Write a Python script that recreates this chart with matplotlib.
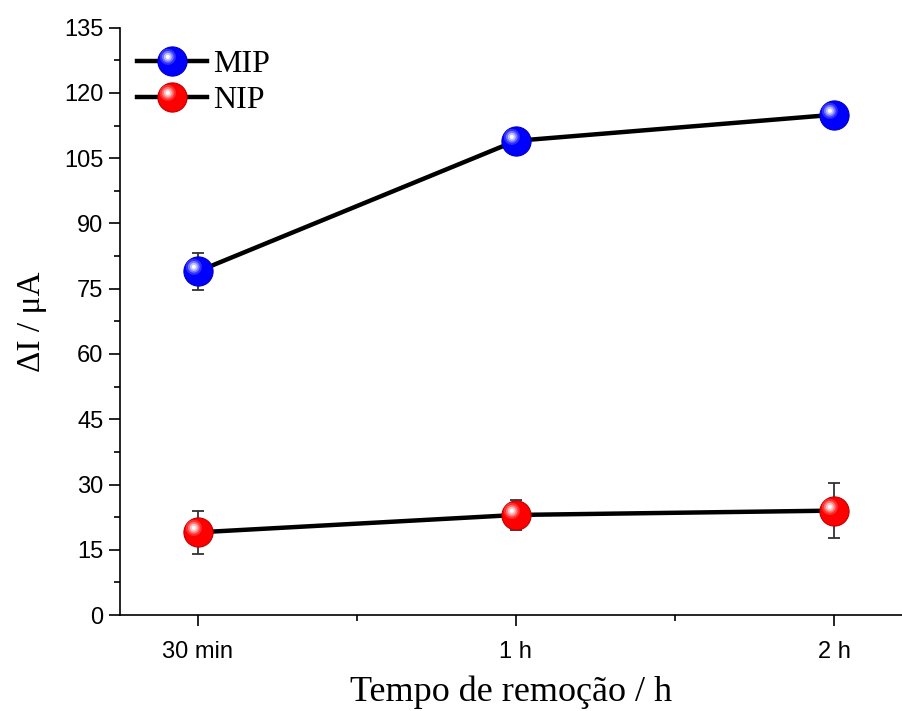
import numpy as np
import matplotlib
matplotlib.use('Agg')
import matplotlib.pyplot as plt
from matplotlib.path import Path
from matplotlib.ticker import MultipleLocator, AutoMinorLocator
from matplotlib.legend_handler import HandlerTuple

# dados
tempos = ['30 min', '1 h', '2 h']
mip = [79, 109, 115]
mip_err = [4.3, 2.5, 1.0]
nip = [19, 23, 24]
nip_err = [5.0, 3.5, 6.4]


def brilho(r, cx=-0.32, cy=0.32):
    # circulo deslocado para o brilho da esfera (pontos MOVETO fixam a escala)
    t = np.linspace(0, 2 * np.pi, 40)
    verts = [(-1, -1), (1, 1)] + [(cx + r * np.cos(a), cy + r * np.sin(a)) for a in t]
    codes = [Path.MOVETO, Path.MOVETO, Path.MOVETO] + [Path.LINETO] * (len(t) - 2) + [Path.CLOSEPOLY]
    return Path(verts, codes)


def esfera(ax, x, y, yerr, cor, tons):
    ms = 21
    ax.errorbar(x, y, yerr=yerr, fmt='none', ecolor='#333333', elinewidth=1.3,
                capsize=4.5, capthick=1.3, zorder=2)
    base, = ax.plot(x, y, color='black', lw=3.2, marker='o', ms=ms,
                    mfc=cor, mec=tons[0], mew=0.8, zorder=3)
    camadas = [base]
    for r, c in zip([0.55, 0.4, 0.27, 0.14], tons[1:]):
        h, = ax.plot(x, y, ls='none', marker=brilho(r), ms=ms, mfc=c, mec='none', zorder=4)
        camadas.append(h)
    return tuple(camadas)


plt.rcParams['font.family'] = ['Liberation Sans', 'DejaVu Sans']
fig = plt.figure(figsize=(9.02, 7.11), dpi=100)
ax = fig.add_axes([0.133, 0.135, 0.867, 0.826])

x = np.arange(len(tempos))
h_mip = esfera(ax, x, mip, mip_err, '#0000ff',
               ['#0000c0', '#3030ff', '#7878ff', '#c0c0ff', '#ffffff'])
h_nip = esfera(ax, x, nip, nip_err, '#ff0000',
               ['#c00000', '#ff3030', '#ff7878', '#ffc0c0', '#ffffff'])

ax.set_xlim(-0.245, 2.214)
ax.set_ylim(0, 135)
ax.set_xticks(x)
ax.set_xticklabels(tempos)
ax.xaxis.set_minor_locator(MultipleLocator(0.5))
ax.yaxis.set_major_locator(MultipleLocator(15))
ax.yaxis.set_minor_locator(AutoMinorLocator(2))
ax.tick_params(which='major', direction='out', length=8, width=1.2, labelsize=17)
ax.tick_params(axis='x', which='major', pad=11)
ax.tick_params(axis='y', which='major', pad=4)
ax.tick_params(which='minor', direction='out', length=4, width=1.2)
ax.spines['top'].set_visible(False)
ax.spines['right'].set_visible(False)
ax.spines['left'].set_linewidth(1.2)
ax.spines['bottom'].set_linewidth(1.2)

serif = ['Liberation Serif', 'DejaVu Serif']
ax.set_xlabel('Tempo de remoção / h', fontdict={'family': serif, 'size': 26}, labelpad=9)
ax.set_ylabel('ΔI / μA', fontdict={'family': serif, 'size': 24}, labelpad=12)

leg = ax.legend([h_mip, h_nip], ['MIP', 'NIP'], loc='upper left', frameon=False,
                handler_map={tuple: HandlerTuple(ndivide=1)},
                prop={'family': serif, 'size': 23},
                handlelength=2.2, labelspacing=0.2, handletextpad=0.2,
                borderaxespad=0.3, bbox_to_anchor=(-0.007, 1.0))

fig.savefig('out.png', dpi=100)
